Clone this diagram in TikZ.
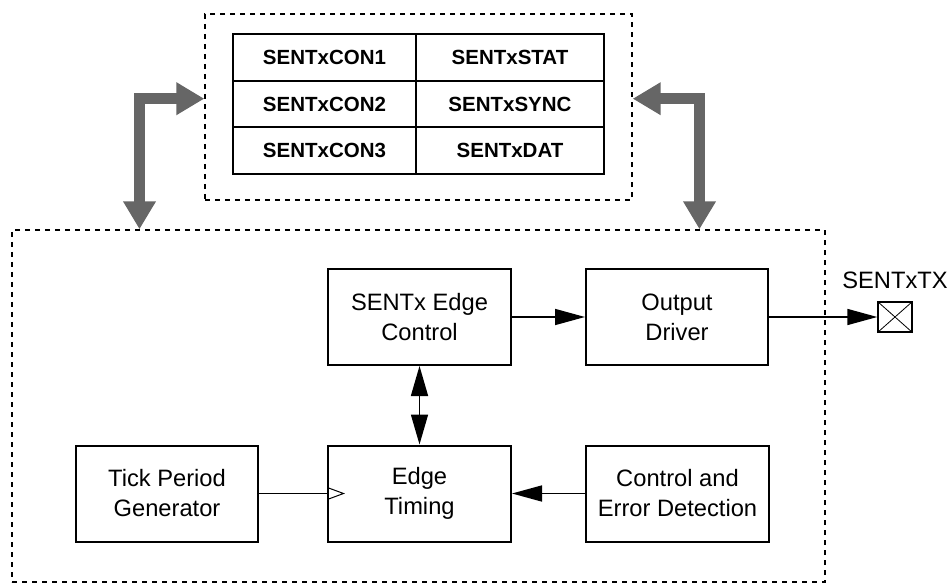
\documentclass[tikz,border=0pt]{standalone}
\usepackage{fontspec}
\setmainfont{Liberation Sans}
\usetikzlibrary{arrows.meta,positioning}

\definecolor{busgray}{HTML}{666666}

\tikzset{
  block/.style={draw, line width=2pt, inner sep=0pt, align=center,
    minimum width=183pt, minimum height=96pt,
    font=\fontsize{23.7}{30}\selectfont},
  regcell/.style={draw, line width=1.8pt, inner sep=0pt, minimum height=46.67pt,
    font=\fontsize{20.5}{24}\selectfont\bfseries},
  dashedbox/.style={draw, line width=1.4pt, dash pattern=on 5pt off 5pt, inner sep=0pt},
  sig/.style={line width=1.6pt, -{Triangle[length=30pt,width=16pt]}},
  bus/.style={line width=10.7pt, draw=busgray, line join=miter,
    {Triangle[length=28pt,width=31pt]}-{Triangle[length=28pt,width=31pt]}}
}

\begin{document}
\begin{tikzpicture}[x=1pt,y=-1pt]
		\useasboundingbox (0,0) rectangle (948,583);
		
		% register block
		\node[dashedbox, minimum width=427pt, minimum height=186pt] (regbox) at (418.5,107) {};
		\foreach \lft/\rgt [count=\i] in {SENTxCON1/SENTxSTAT, SENTxCON2/SENTxSYNC, SENTxCON3/SENTxDAT}{
			\node[regcell, minimum width=183pt] (regL\i) at (324.5,{10.67+46.67*\i}) {\lft};
			\node[regcell, minimum width=188pt] (regR\i) at (510,{10.67+46.67*\i}) {\rgt};
		}
		
		% SENT module
		\node[dashedbox, minimum width=813pt, minimum height=352pt] (sentx) at (418.5,406) {};
		\node[block] (edgectl) at (419.5,317) {SENTx Edge\\Control};
		\node[block, minimum width=182pt] (outdrv) at (677,317) {Output\\Driver};
		\node[block, minimum width=182pt] (tick) at (167,493.5) {Tick Period\\Generator};
		\node[block] (timing) at (419.5,493.5) {Edge\\Timing};
		\node[block] (ctrlerr) at (677.5,493.5) {Control and\\Error Detection};
		
		% output pin
		\node[draw, line width=1.4pt, minimum width=34pt, minimum height=30pt, inner sep=0pt] (pad) at (895,317) {};
		\draw[line width=0.8pt] (pad.north west) -- (pad.south east) (pad.south west) -- (pad.north east);
		\node[anchor=base, inner sep=0pt, font=\fontsize{23.7}{30}\selectfont] (txlbl) at ([yshift=13pt]pad.north) {SENTxTX};
		
		% signals
		\draw[sig] (edgectl.east) -- (outdrv.west);
		\draw[sig] (outdrv.east) -- (pad.west);
		\draw[sig, {Triangle[length=30pt,width=17pt]}-{Triangle[length=30pt,width=17pt]}] (edgectl.south) -- (timing.north);
		\draw[sig] (ctrlerr.west) -- (timing.east);
		\draw[line width=1.6pt, -{Triangle[open,length=18pt,width=13pt,line width=1pt]}] (tick.east) -- ([xshift=18pt]timing.west);
		
		% bus arrows
		\coordinate (lbus) at (139.5,98.7);
		\coordinate (rbus) at (699.5,98.7);
		\draw[bus] (regbox.west |- lbus) -- (lbus) -- (lbus |- sentx.north);
		\draw[bus] (regbox.east |- rbus) -- (rbus) -- (rbus |- sentx.north);
	\end{tikzpicture}
\end{document}
